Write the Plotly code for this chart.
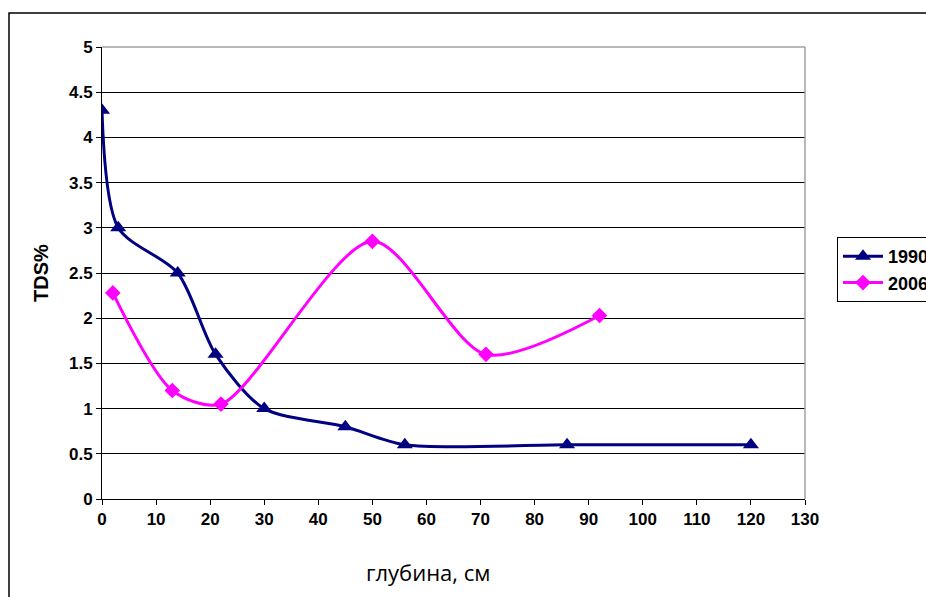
import plotly.graph_objects as go

depth_1990 = [0, 3, 14, 21, 30, 45, 56, 86, 120]
tds_1990 = [4.3, 3.0, 2.5, 1.6, 1.0, 0.8, 0.6, 0.6, 0.6]
depth_2006 = [2, 13, 22, 50, 71, 92]
tds_2006 = [2.28, 1.2, 1.05, 2.85, 1.6, 2.03]
x_ticks = list(range(0, 131, 10))
x_tick_labels = [str(v) for v in x_ticks]
y_ticks = [0, 0.5, 1, 1.5, 2, 2.5, 3, 3.5, 4, 4.5, 5]
y_tick_labels = ["0", "0.5", "1", "1.5", "2", "2.5", "3", "3.5", "4", "4.5", "5"]

fig = go.Figure()
fig.add_trace(go.Scatter(
    x=depth_1990, y=tds_1990, name="<b>1990</b>", mode="lines+markers",
    line=dict(color="#000080", width=3, shape="spline", smoothing=0.8),
    marker=dict(symbol="triangle-up", size=14, color="#000080"),
))
fig.add_trace(go.Scatter(
    x=depth_2006, y=tds_2006, name="<b>2006</b>", mode="lines+markers",
    line=dict(color="#FF00FF", width=3, shape="spline", smoothing=0.8),
    marker=dict(symbol="diamond", size=12, color="#FF00FF"),
))

tick_font = dict(family="Liberation Sans, Arial", size=17, color="black")

fig.update_layout(
    width=926, height=597,
    margin=dict(l=102, r=121, t=47, b=98, autoexpand=False),
    paper_bgcolor="white", plot_bgcolor="white",
    showlegend=True,
    legend=dict(
        xref="container", yref="container",
        x=837 / 926, y=1 - 237 / 597, xanchor="left", yanchor="top",
        bordercolor="black", borderwidth=1, bgcolor="white",
        font=dict(family="Liberation Sans, Arial", size=18, color="black"),
        tracegroupgap=4, itemwidth=40,
    ),
    xaxis=dict(
        range=[0, 130], tickvals=x_ticks, ticktext=["<b>%s</b>" % t for t in x_tick_labels],
        ticks="outside", ticklen=5,
        tickcolor="black", showgrid=False, zeroline=False,
        showline=True, linecolor="black", linewidth=1,
        tickfont=tick_font, automargin=False,
    ),
    yaxis=dict(
        range=[0, 5], tickvals=y_ticks, ticktext=["<b>%s</b>" % t for t in y_tick_labels],
        ticks="outside", ticklen=5, tickcolor="black",
        showgrid=True, gridcolor="black", gridwidth=1, zeroline=False,
        showline=True, linecolor="black", linewidth=1,
        tickfont=tick_font, automargin=False,
        title=dict(text="<b>TDS%</b>", font=dict(family="Liberation Sans, Arial", size=20,
                                                color="black"), standoff=14),
    ),
    annotations=[dict(
        text="глубина, см", xref="paper", yref="paper",
        x=(428 - 102) / 703, y=-(572 - 499) / 452, xanchor="center", yanchor="middle",
        showarrow=False, font=dict(family="Open Sans, Noto Sans", size=22, color="black"),
    )],
    shapes=[
        dict(type="line", xref="paper", yref="paper", x0=0, x1=1, y0=1, y1=1,
             line=dict(color="#A0A0A0", width=1.5), layer="above"),
        dict(type="line", xref="paper", yref="paper", x0=1, x1=1, y0=0, y1=1,
             line=dict(color="#A0A0A0", width=1.5), layer="above"),
        dict(type="rect", xref="paper", yref="paper",
             x0=(9 - 102) / 703, x1=(935 - 102) / 703,
             y0=-(605 - 499) / 452, y1=1 + (47 - 13) / 452,
             line=dict(color="black", width=1.5), fillcolor="rgba(0,0,0,0)", layer="below"),
    ],
)

fig.write_html("out.html", config={"displayModeBar": False},
               post_script="document.body.style.margin='0';document.body.style.overflow='hidden';")
